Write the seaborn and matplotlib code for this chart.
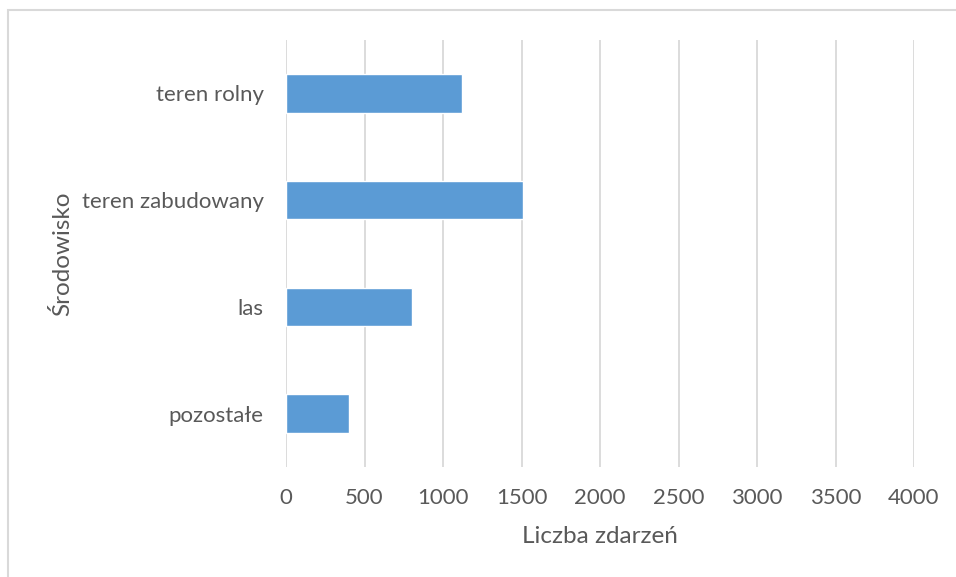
import matplotlib
matplotlib.use("Agg")
import matplotlib.pyplot as plt
import seaborn as sns
import pandas as pd
from matplotlib.patches import Rectangle

sns.set_theme(style="white")
plt.rcParams['font.family'] = ['Lato', 'DejaVu Sans']

srodowisko = ["teren rolny", "teren zabudowany", "las", "pozostałe"]
liczba = [1120, 1510, 800, 400]
x_ticks = [0, 500, 1000, 1500, 2000, 2500, 3000, 3500, 4000]

df = pd.DataFrame({"Środowisko": srodowisko, "Liczba zdarzeń": liczba})

szary = "#595959"
fig = plt.figure(figsize=(9.56, 5.77), dpi=100)
ax = fig.add_axes([286 / 956, 1 - 467 / 577, (914 - 286) / 956, (467 - 40) / 577])

sns.barplot(data=df, x="Liczba zdarzeń", y="Środowisko", color="#5b9bd5",
            width=0.36, saturation=1, ax=ax, zorder=3)

ax.set_xlim(0, 4000)
ax.set_ylim(3.5, -0.5)
ax.set_xticks(x_ticks)
ax.xaxis.grid(True, color="#d9d9d9", linewidth=1.3, zorder=0)
ax.yaxis.grid(False)
ax.set_axisbelow(True)
for s in ax.spines.values():
    s.set_visible(False)
ax.tick_params(axis="both", length=0, labelcolor=szary)
ax.tick_params(axis="x", pad=15, labelsize=16)
ax.tick_params(axis="y", pad=16, labelsize=16)
ax.set_xlabel("Liczba zdarzeń", fontsize=17.5, color=szary, labelpad=13)
ax.set_ylabel("Środowisko", fontsize=17.5, color=szary, labelpad=6)

fig.patches.append(Rectangle((8 / 956, -0.1), 1.2, 1 - 10 / 577 + 0.1,
                             transform=fig.transFigure, fill=False,
                             edgecolor="#d9d9d9", linewidth=1.5))

fig.savefig("out.png", dpi=100)
